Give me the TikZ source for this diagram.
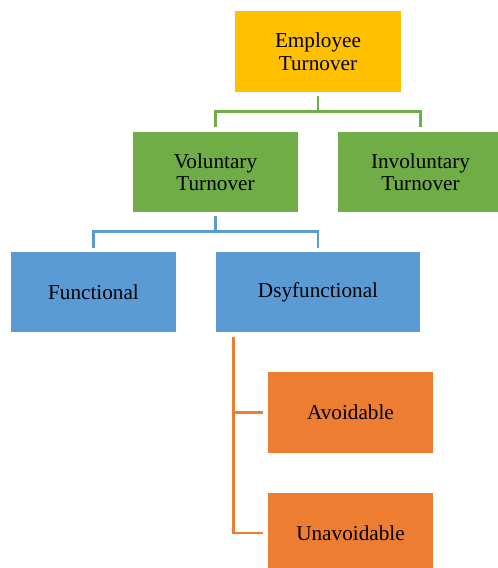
\documentclass[tikz,border=0pt]{standalone}
\usepackage{fontspec}
\setmainfont{Liberation Serif}
\usetikzlibrary{calc}
\definecolor{cgold}{HTML}{FFC000}
\definecolor{cgreen}{HTML}{70AD47}
\definecolor{cblue}{HTML}{5B9BD5}
\definecolor{corange}{HTML}{ED7D31}
\begin{document}
\begin{tikzpicture}[x=1pt,y=-1pt,
  box/.style={inner sep=0pt, align=center, text=black, font=\fontsize{21.2}{22.5}\selectfont, minimum height=80pt, minimum width=165pt},
  conn/.style={line width=2.7pt}]
\useasboundingbox (0,0) rectangle (498,568);
\node[box, fill=cgold, minimum width=166pt, minimum height=81pt] (emp) at (318,51.5) {Employee\\Turnover};
\node[box, fill=cgreen] (vol) at (215.5,172) {Voluntary\\Turnover};
\node[box, fill=cgreen] (inv) at (420.5,172) {Involuntary\\Turnover};
\node[box, fill=cblue] (func) at (93.5,292) {Functional};
\node[box, fill=cblue, minimum width=204pt] (dys) at (318,292) {Dsyfunctional};
\node[box, fill=corange, minimum height=81pt] (avoid) at (350.5,412.5) {Avoidable};
\node[box, fill=corange] (unav) at (350.5,533) {Unavoidable};
% green connectors
\draw[conn, cgreen] ($(emp.south)+(0,4)$) -- ($(emp.south)+(0,20)$);
\draw[conn, cgreen] ($(vol.north)+(0,-5)$) |- ($(inv.north)+(0,-20)$) -- ($(inv.north)+(0,-5)$);
% blue connectors
\draw[conn, cblue] ($(vol.south)+(0,4)$) -- ($(vol.south)+(0,20)$);
\draw[conn, cblue] ($(func.north)+(0,-4)$) |- ($(dys.north)+(0,-20)$) -- ($(dys.north)+(0,-4)$);
% orange connectors
\coordinate (ot) at ($(dys.south west)+(18,5)$);
\draw[conn, corange] (ot) |- ($(unav.west)+(-5,0)$);
\draw[conn, corange] (ot |- avoid.west) -- ($(avoid.west)+(-5,0)$);
\end{tikzpicture}
\end{document}
